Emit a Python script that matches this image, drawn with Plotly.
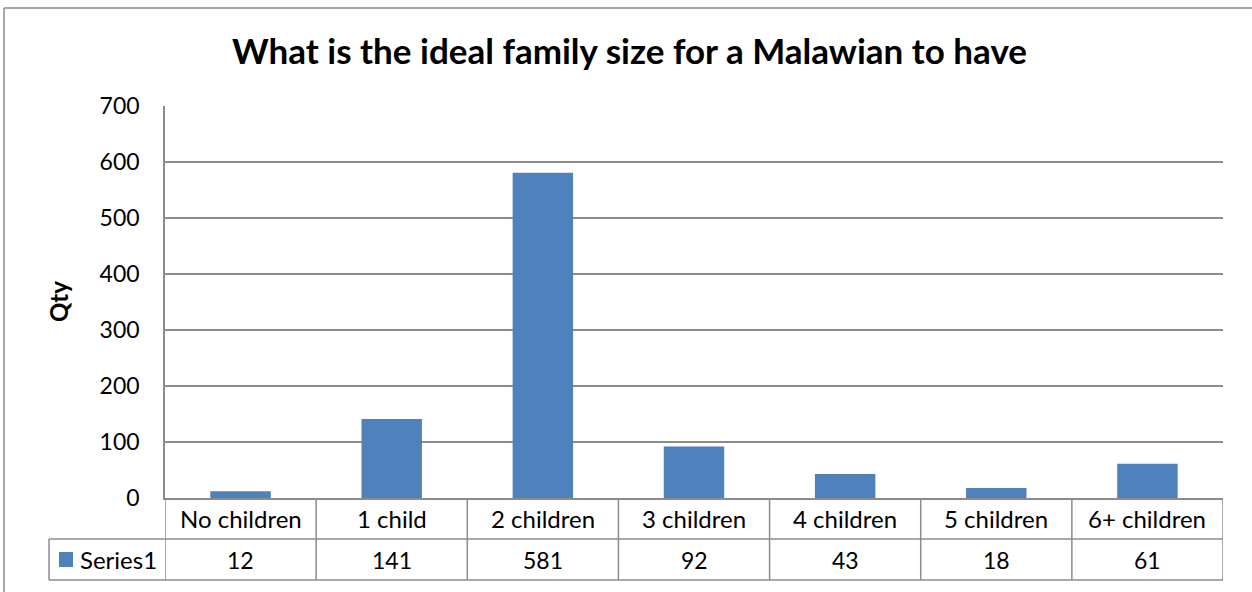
import plotly.graph_objects as go

categories = ["No children", "1 child", "2 children", "3 children", "4 children", "5 children", "6+ children"]
values = [12, 141, 581, 92, 43, 18, 61]
series_name = "Series1"
title_text = "What is the ideal family size for a Malawian to have"
y_title = "Qty"
y_ticks = [0, 100, 200, 300, 400, 500, 600, 700]

W, H = 1252, 592
L, R, T, B = 165, 1223, 106, 498
PW, PH = R - L, B - T
BAR = "#4F81BD"
GRID = "#8C8C8C"
FONT = "Lato"
FS = 23
FS_TXT = 24


def px(x):
    return (x - L) / PW


def py(y):
    return (B - y) / PH


fig = go.Figure(go.Bar(
    x=categories, y=values, name=series_name,
    marker=dict(color=BAR, line=dict(width=0)),
    showlegend=False,
))

shapes = []
line = dict(color=GRID, width=1.5)
# table horizontal lines
for yy, x0 in [(539, 49), (580, 49)]:
    shapes.append(dict(type="line", xref="paper", yref="paper", x0=px(x0), x1=1, y0=py(yy), y1=py(yy), line=line))
# table vertical lines
shapes.append(dict(type="line", xref="paper", yref="paper", x0=px(49), x1=px(49), y0=py(539), y1=py(580), line=line))
for i in range(len(categories) + 1):
    shapes.append(dict(type="line", xref="x", yref="paper", x0=i - 0.5, x1=i - 0.5, y0=0, y1=py(580), line=line))
# legend key
shapes.append(dict(type="rect", xref="paper", yref="paper", x0=px(59), x1=px(73), y0=py(552), y1=py(567),
                   fillcolor=BAR, line=dict(width=0)))
# outer chart border
border = dict(color="#8A8A8A", width=1.5)
shapes.append(dict(type="line", xref="paper", yref="paper", x0=px(4), x1=px(4), y0=py(8), y1=py(600), line=border))
shapes.append(dict(type="line", xref="paper", yref="paper", x0=px(4), x1=px(1260), y0=py(8), y1=py(8), line=border))

annotations = []
dfont = dict(family=FONT, size=FS, color="#000000")
cfont = dict(family=FONT, size=FS_TXT, color="#000000")
for c, v in zip(categories, values):
    annotations.append(dict(x=c, xref="x", y=py(518.5), yref="paper", text=c, showarrow=False,
                            xanchor="center", yanchor="middle", font=cfont))
    annotations.append(dict(x=c, xref="x", y=py(559.5), yref="paper", text=str(v), showarrow=False,
                            xanchor="center", yanchor="middle", font=dfont))
annotations.append(dict(x=px(78), xref="paper", y=py(559.5), yref="paper", text=series_name, showarrow=False,
                        xanchor="left", yanchor="middle", font=cfont))
annotations.append(dict(x=px(58), xref="paper", y=py(302), yref="paper", text="<b>" + y_title + "</b>",
                        showarrow=False, textangle=-90, xanchor="center", yanchor="middle",
                        font=dict(family=FONT, size=24, color="#000000")))

fig.update_layout(
    width=W, height=H,
    margin=dict(l=L, r=W - R, t=T, b=H - B, pad=0),
    paper_bgcolor="white", plot_bgcolor="white",
    title=dict(text="<b>" + title_text + "</b>", x=629.5 / W, xanchor="center",
               y=1 - 52 / H, yanchor="middle", font=dict(family=FONT, size=35, color="#000000")),
    bargap=0.6,
    shapes=shapes,
    annotations=annotations,
    xaxis=dict(type="category", showticklabels=False, showgrid=False, zeroline=False,
               showline=True, linecolor=GRID, linewidth=1.5, ticks="", range=[-0.5, len(categories) - 0.5]),
    yaxis=dict(range=[0, 700], tickvals=y_ticks, showgrid=True, gridcolor=GRID, gridwidth=1.5,
               zeroline=False, showline=True, linecolor=GRID, linewidth=1.5, ticks="",
               ticklabelstandoff=19, tickfont=dict(family=FONT, size=FS, color="#000000")),
)

fig.write_html("out.html")
